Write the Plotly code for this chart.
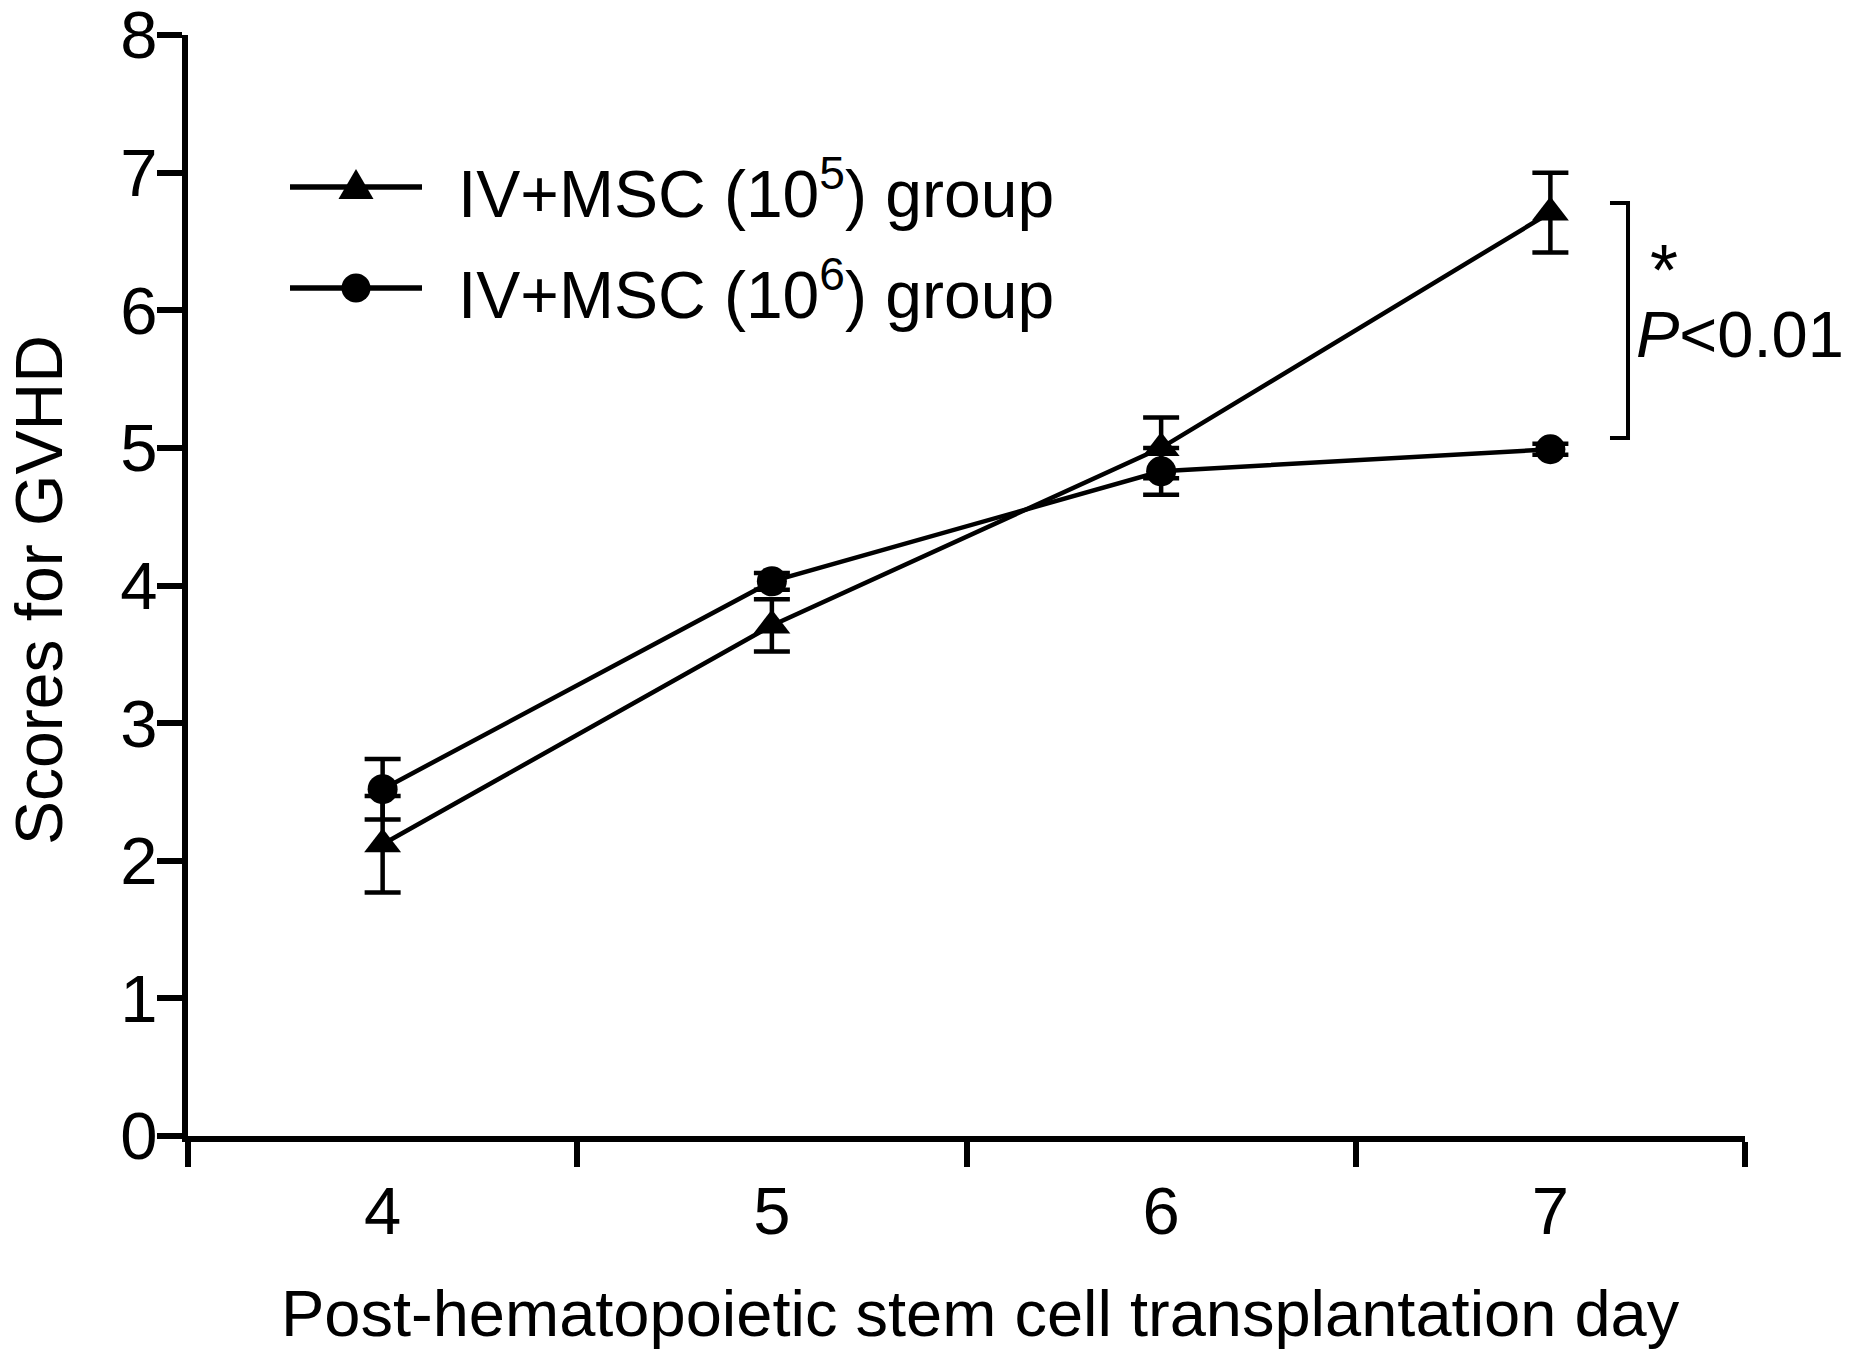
import plotly.graph_objects as go

# ---------------- data ----------------
days = [4, 5, 6, 7]
msc5_mean = [2.12, 3.71, 5.00, 6.71]
msc5_err = [0.35, 0.19, 0.22, 0.29]
msc6_mean = [2.52, 4.03, 4.83, 4.99]
msc6_err = [0.22, 0.06, 0.17, 0.04]
series_names = ["IV+MSC (10<sup>5</sup>) group", "IV+MSC (10<sup>6</sup>) group"]
y_ticks = [0, 1, 2, 3, 4, 5, 6, 7, 8]
x_boundary_ticks = [3.5, 4.5, 5.5, 6.5, 7.5]

# ---------------- layout geometry ----------------
# page body has an 8px default margin: figure coords = page coords - OFF
OFF = 8
W, H = 1853 - 2 * OFF, 1362 - 2 * OFF
L, R, T, B = 188 - OFF, 1745 - OFF, 35 - OFF, 1136 - OFF
PW, PH = R - L, B - T
FONT = "Liberation Sans, Arial, sans-serif"


def px(x):
    """page pixel x -> paper fraction"""
    return (x - OFF - L) / PW


def py(y):
    """page pixel y -> paper fraction"""
    return (B - (y - OFF)) / PH


fig = go.Figure()

fig.add_trace(go.Scatter(
    x=days, y=msc5_mean, name=series_names[0], mode="lines+markers",
    line=dict(color="black", width=4.5),
    marker=dict(symbol="triangle-up", size=32, color="black", line=dict(width=0)),
    error_y=dict(type="data", array=msc5_err, visible=True, color="black", thickness=4.5, width=18),
    showlegend=False, cliponaxis=False,
))
fig.add_trace(go.Scatter(
    x=days, y=msc6_mean, name=series_names[1], mode="lines+markers",
    line=dict(color="black", width=4.5),
    marker=dict(symbol="circle", size=30, color="black", line=dict(width=0)),
    error_y=dict(type="data", array=msc6_err, visible=True, color="black", thickness=4.5, width=18),
    showlegend=False, cliponaxis=False,
))

shapes = []
annotations = []

# ---- custom legend ----
leg_rows = [187, 288]
leg_x0, leg_x1, leg_mx = 290, 422, 356
for i, yy in enumerate(leg_rows):
    shapes.append(dict(type="line", xref="paper", yref="paper",
                       x0=px(leg_x0), x1=px(leg_x1), y0=py(yy), y1=py(yy),
                       line=dict(color="black", width=5.5)))
    if i == 0:
        path = "M {:.5f},{:.5f} L {:.5f},{:.5f} L {:.5f},{:.5f} Z".format(
            px(leg_mx - 17.5), py(yy + 12), px(leg_mx + 17.5), py(yy + 12),
            px(leg_mx), py(yy - 18))
        shapes.append(dict(type="path", xref="paper", yref="paper", path=path,
                           fillcolor="black", line=dict(width=0)))
    else:
        shapes.append(dict(type="circle", xref="paper", yref="paper",
                           x0=px(leg_mx - 14.5), x1=px(leg_mx + 14.5),
                           y0=py(yy + 14.5), y1=py(yy - 14.5),
                           fillcolor="black", line=dict(width=0)))
    annotations.append(dict(xref="paper", yref="paper", x=px(456), y=py(yy + 2),
                            xanchor="left", yanchor="middle", showarrow=False,
                            text=series_names[i],
                            font=dict(family=FONT, size=66, color="black")))

# ---- significance bracket ----
bx0, bx1, by0, by1 = 1610, 1628, 203, 438
shapes.append(dict(type="path", xref="paper", yref="paper",
                   path="M {:.5f},{:.5f} L {:.5f},{:.5f} L {:.5f},{:.5f} L {:.5f},{:.5f}".format(
                       px(bx0), py(by0), px(bx1), py(by0), px(bx1), py(by1), px(bx0), py(by1)),
                   line=dict(color="black", width=4)))
annotations.append(dict(xref="paper", yref="paper", x=px(1664), y=py(270),
                        xanchor="center", yanchor="middle", showarrow=False,
                        text="*", font=dict(family=FONT, size=72, color="black")))
annotations.append(dict(xref="paper", yref="paper", x=px(1634), y=py(334),
                        xanchor="left", yanchor="middle", showarrow=False,
                        text="<i>P</i>&lt;0.01", font=dict(family=FONT, size=65, color="black")))

# ---- axis titles ----
annotations.append(dict(xref="paper", yref="paper", x=px(980), y=py(1313),
                        xanchor="center", yanchor="middle", showarrow=False,
                        text="Post-hematopoietic stem cell transplantation day",
                        font=dict(family=FONT, size=65, color="black")))
annotations.append(dict(xref="paper", yref="paper", x=px(39), y=py(590),
                        xanchor="center", yanchor="middle", showarrow=False,
                        textangle=-90, text="Scores for GVHD",
                        font=dict(family=FONT, size=66, color="black")))

fig.update_layout(
    width=W, height=H,
    margin=dict(l=L, r=W - R, t=T, b=H - B, autoexpand=False),
    paper_bgcolor="white", plot_bgcolor="white",
    font=dict(family=FONT, size=66, color="black"),
    shapes=shapes, annotations=annotations,
    showlegend=False,
)

fig.update_xaxes(
    range=[3.5, 7.5], tickmode="array", tickvals=days, ticktext=[str(d) for d in days],
    ticks="outside", ticklen=25, tickwidth=6, tickcolor="rgba(0,0,0,0)",
    ticklabelstandoff=-13, ticklabeloverflow="allow",
    minor=dict(tickmode="array", tickvals=x_boundary_ticks, ticks="outside",
               ticklen=25, tickwidth=6, tickcolor="black", showgrid=False),
    showline=True, linecolor="black", linewidth=6,
    showgrid=False, zeroline=False, automargin=False,
    tickfont=dict(family=FONT, size=67, color="black"),
)
fig.update_yaxes(
    range=[0, 8], tickmode="array", tickvals=y_ticks,
    ticks="outside", ticklen=25, tickwidth=6, tickcolor="black",
    ticklabelstandoff=-14, ticklabeloverflow="allow",
    showline=True, linecolor="black", linewidth=6,
    showgrid=False, zeroline=False, automargin=False,
    tickfont=dict(family=FONT, size=67, color="black"),
)

fig.write_html("out.html")
